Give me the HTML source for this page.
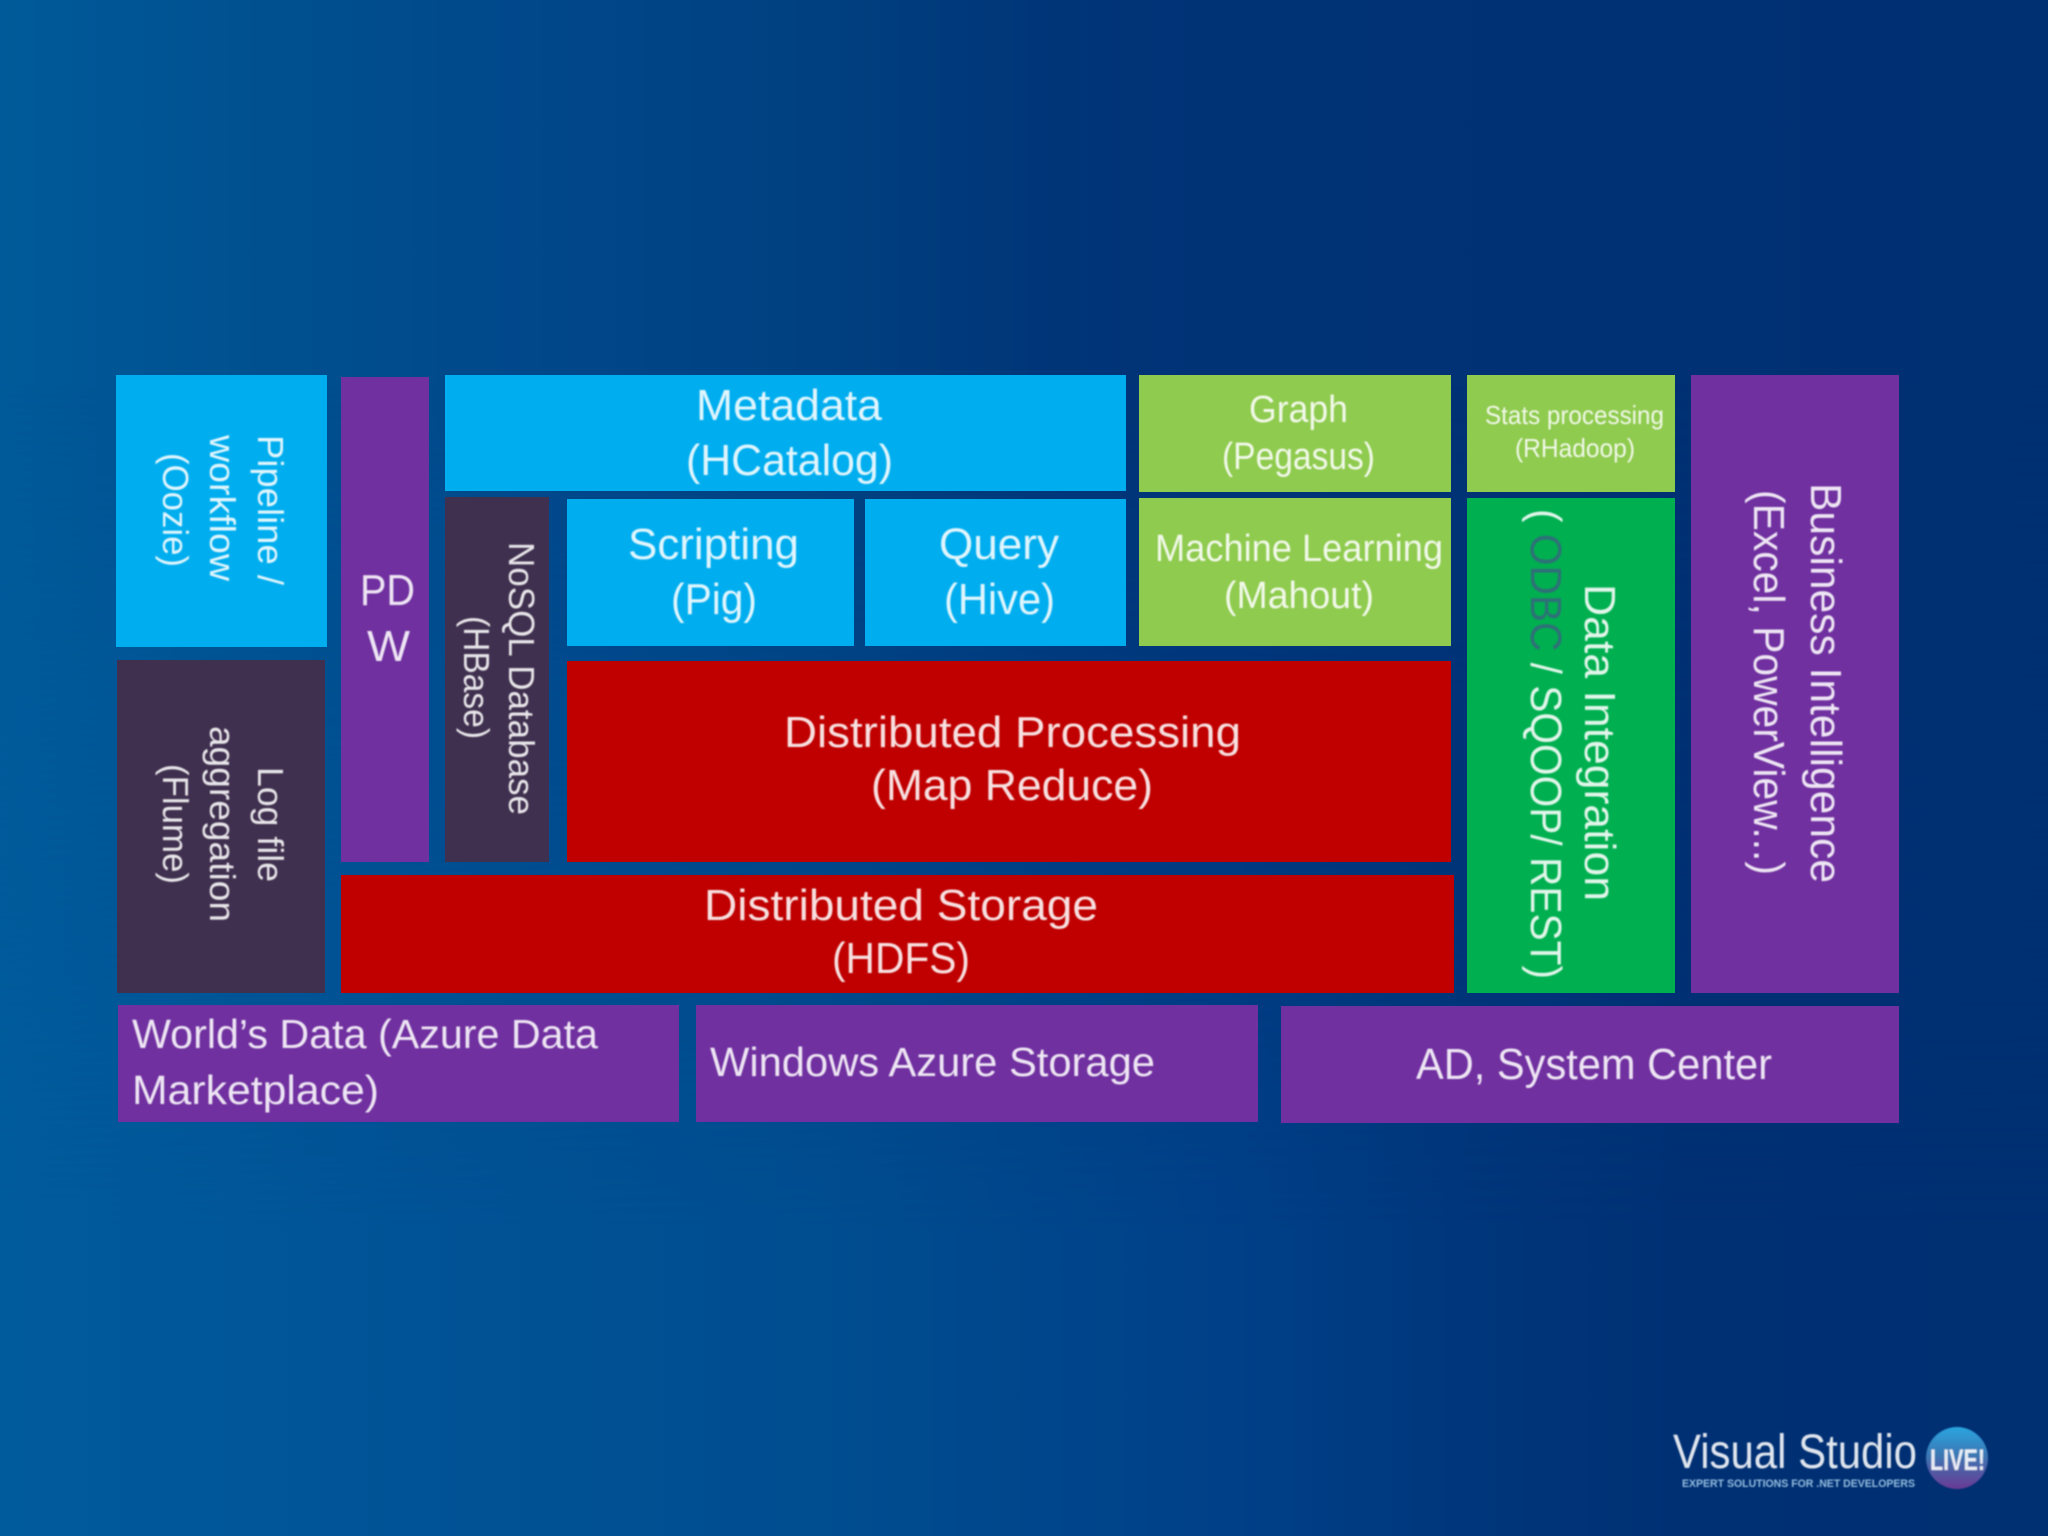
<!DOCTYPE html>
<html><head><meta charset="utf-8"><style>
html,body{margin:0;padding:0;width:2048px;height:1536px;overflow:hidden;background:#003276}
svg{display:block}
text{font-family:"Liberation Sans",sans-serif;fill:#fff;fill-opacity:.88}
</style></head><body>
<svg xmlns="http://www.w3.org/2000/svg" width="2048" height="1536" viewBox="0 0 2048 1536">
<defs>
<linearGradient id="bg" x1="0" y1="0" x2="1" y2="0">
<stop offset="0" stop-color="#005a99"/><stop offset=".13" stop-color="#00508f"/><stop offset=".27" stop-color="#00478a"/><stop offset=".4" stop-color="#004080"/><stop offset=".52" stop-color="#003578"/><stop offset=".6" stop-color="#003276"/><stop offset="1" stop-color="#003072"/>
</linearGradient>
<linearGradient id="bg2" x1="0" y1="0" x2="1" y2="0">
<stop offset="0" stop-color="#005b9c"/><stop offset=".2" stop-color="#005396"/><stop offset=".4" stop-color="#004d90"/><stop offset=".6" stop-color="#004088"/><stop offset=".72" stop-color="#00367b"/><stop offset=".82" stop-color="#003074"/><stop offset="1" stop-color="#002f72"/>
</linearGradient>
<linearGradient id="fade" x1="0" y1="0" x2="0" y2="1">
<stop offset=".25" stop-color="#000"/><stop offset=".8" stop-color="#fff"/>
</linearGradient>
<mask id="m" maskUnits="userSpaceOnUse" x="0" y="0" width="2048" height="1536"><rect width="2048" height="1536" fill="url(#fade)"/></mask>
<linearGradient id="ball" x1="0" y1="0" x2="0" y2="1">
<stop offset="0" stop-color="#2aa5e0"/><stop offset=".45" stop-color="#3a78b4"/><stop offset="1" stop-color="#6a3a94"/>
</linearGradient>
<filter id="soft" x="-5%" y="-5%" width="110%" height="110%"><feGaussianBlur stdDeviation=".7"/></filter>
</defs>
<rect width="2048" height="1536" fill="url(#bg)"/>
<rect width="2048" height="1536" fill="url(#bg2)" mask="url(#m)"/>

<rect x="116" y="375" width="211" height="272" fill="#00aeef"/>
<rect x="117" y="660" width="208" height="333" fill="#40304f"/>
<rect x="341" y="377" width="88" height="485" fill="#7030a0"/>
<rect x="445" y="375" width="681" height="116" fill="#00aeef"/>
<rect x="445" y="497" width="104" height="365" fill="#40304f"/>
<rect x="567" y="499" width="287" height="147" fill="#00aeef"/>
<rect x="865" y="499" width="261" height="147" fill="#00aeef"/>
<rect x="1139" y="375" width="312" height="117" fill="#8fcb4e"/>
<rect x="1139" y="498" width="312" height="148" fill="#8fcb4e"/>
<rect x="1467" y="375" width="208" height="117" fill="#8fcb4e"/>
<rect x="1467" y="498" width="208" height="495" fill="#00b050"/>
<rect x="1691" y="375" width="208" height="618" fill="#7030a0"/>
<rect x="567" y="661" width="884" height="201" fill="#c00000"/>
<rect x="341" y="875" width="1113" height="118" fill="#c00000"/>
<rect x="118" y="1005" width="561" height="117" fill="#7030a0"/>
<rect x="696" y="1005" width="562" height="117" fill="#7030a0"/>
<rect x="1281" y="1006" width="618" height="117" fill="#7030a0"/>

<g filter="url(#soft)">
<text x="696" y="420" font-size="44" textLength="186" lengthAdjust="spacingAndGlyphs">Metadata</text>
<text x="686" y="475" font-size="44" textLength="207" lengthAdjust="spacingAndGlyphs">(HCatalog)</text>
<text x="628" y="559" font-size="44" textLength="171" lengthAdjust="spacingAndGlyphs">Scripting</text>
<text x="671" y="614" font-size="44" textLength="86" lengthAdjust="spacingAndGlyphs">(Pig)</text>
<text x="939" y="559" font-size="44" textLength="120" lengthAdjust="spacingAndGlyphs">Query</text>
<text x="944" y="614" font-size="44" textLength="111" lengthAdjust="spacingAndGlyphs">(Hive)</text>
<text x="1249" y="422" font-size="38" textLength="99" lengthAdjust="spacingAndGlyphs">Graph</text>
<text x="1222" y="469" font-size="38" textLength="153" lengthAdjust="spacingAndGlyphs">(Pegasus)</text>
<text x="1155" y="561" font-size="38" textLength="288" lengthAdjust="spacingAndGlyphs">Machine Learning</text>
<text x="1224" y="608" font-size="38" textLength="150" lengthAdjust="spacingAndGlyphs">(Mahout)</text>
<text x="1485" y="424" font-size="26" textLength="179" lengthAdjust="spacingAndGlyphs">Stats processing</text>
<text x="1515" y="457" font-size="26" textLength="120" lengthAdjust="spacingAndGlyphs">(RHadoop)</text>
<text x="784" y="747" font-size="44" textLength="457" lengthAdjust="spacingAndGlyphs">Distributed Processing</text>
<text x="871" y="800" font-size="44" textLength="282" lengthAdjust="spacingAndGlyphs">(Map Reduce)</text>
<text x="704" y="920" font-size="44" textLength="394" lengthAdjust="spacingAndGlyphs">Distributed Storage</text>
<text x="832" y="973" font-size="44" textLength="138" lengthAdjust="spacingAndGlyphs">(HDFS)</text>
<text x="132" y="1048" font-size="41" textLength="466" lengthAdjust="spacingAndGlyphs">World’s Data (Azure Data</text>
<text x="132" y="1104" font-size="41" textLength="247" lengthAdjust="spacingAndGlyphs">Marketplace)</text>
<text x="710" y="1076" font-size="41" textLength="445" lengthAdjust="spacingAndGlyphs">Windows Azure Storage</text>
<text x="1416" y="1079" font-size="44" textLength="356" lengthAdjust="spacingAndGlyphs">AD, System Center</text>
<text x="360" y="605" font-size="44" textLength="55" lengthAdjust="spacingAndGlyphs">PD</text>
<text x="367" y="661" font-size="44" textLength="43" lengthAdjust="spacingAndGlyphs">W</text>

<text transform="translate(258,435) rotate(90)" font-size="36" textLength="150" lengthAdjust="spacingAndGlyphs">Pipeline /</text>
<text transform="translate(210,435) rotate(90)" font-size="36" textLength="146" lengthAdjust="spacingAndGlyphs">workflow</text>
<text transform="translate(163,453) rotate(90)" font-size="36" textLength="114" lengthAdjust="spacingAndGlyphs">(Oozie)</text>
<text transform="translate(258,767) rotate(90)" font-size="36" textLength="115" lengthAdjust="spacingAndGlyphs">Log file</text>
<text transform="translate(210,726) rotate(90)" font-size="36" textLength="196" lengthAdjust="spacingAndGlyphs">aggregation</text>
<text transform="translate(163,764) rotate(90)" font-size="36" textLength="120" lengthAdjust="spacingAndGlyphs">(Flume)</text>
<text transform="translate(509,542) rotate(90)" font-size="36" textLength="273" lengthAdjust="spacingAndGlyphs">NoSQL Database</text>
<text transform="translate(464,616) rotate(90)" font-size="36" textLength="123" lengthAdjust="spacingAndGlyphs">(HBase)</text>
<text transform="translate(1585,584) rotate(90)" font-size="44" textLength="317" lengthAdjust="spacingAndGlyphs">Data Integration</text>
<text transform="translate(1531,509) rotate(90)" font-size="44" textLength="470" lengthAdjust="spacingAndGlyphs">( <tspan fill="#2f6f78" fill-opacity="1">ODBC</tspan> / SQOOP/ REST)</text>
<text transform="translate(1811,483) rotate(90)" font-size="44" textLength="400" lengthAdjust="spacingAndGlyphs">Business Intelligence</text>
<text transform="translate(1754,490) rotate(90)" font-size="44" textLength="385" lengthAdjust="spacingAndGlyphs">(Excel, PowerView...)</text>

<circle cx="1957" cy="1458" r="31" fill="url(#ball)"/>
<text x="1673" y="1468" font-size="48" textLength="244" lengthAdjust="spacingAndGlyphs">Visual Studio</text>
<text x="1682" y="1487" font-size="11" font-weight="bold" style="fill:#a8d0ee" textLength="233" lengthAdjust="spacingAndGlyphs">EXPERT SOLUTIONS FOR .NET DEVELOPERS</text>
<text x="1930" y="1470" font-size="30" font-weight="bold" textLength="55" lengthAdjust="spacingAndGlyphs">LIVE!</text>
</g>
</svg>
</body></html>
